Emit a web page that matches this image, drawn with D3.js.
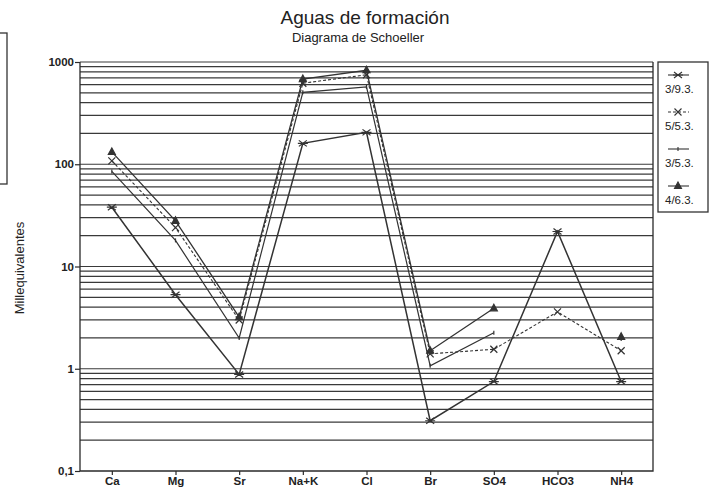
<!DOCTYPE html>
<html>
<head>
<meta charset="utf-8">
<script src="https://cdn.jsdelivr.net/npm/d3@7"></script>
<style>
  body { margin: 0; background: #fff; }
  text { font-family: Arial, "Liberation Sans", sans-serif; fill: #222; }
</style>
</head>
<body>
<div id="chart"></div>
<script>
// chart data
const ions = ["Ca", "Mg", "Sr", "Na+K", "Cl", "Br", "SO4", "HCO3", "NH4"];
const seriesNames = ["3/9.3.", "5/5.3.", "3/5.3.", "4/6.3."];
const s393 = [38, 5.3, 0.88, 160, 205, 0.31, 0.75, 22, 0.75];
const s553 = [108, 24, 3.0, 620, 750, 1.4, 1.55, 3.6, 1.5];
const s353 = [85, 18, 2.0, 505, 570, 1.07, 2.25, null, 1.95];
const s463 = [132, 28, 3.2, 680, 830, 1.5, 3.9, null, 2.05];
const yTicks = [1000, 100, 10, 1, 0.1];
const yTickLabels = ["1000", "100", "10", "1", "0,1"];

const width = 716, height = 492;
const plotLeft = 80, plotRight = 653, plotTop = 62, plotBottom = 471;

const svg = d3.select("#chart").append("svg")
    .attr("width", width)
    .attr("height", height);

const x = d3.scalePoint().domain(ions).range([plotLeft, plotRight]).padding(0.5);
const y = d3.scaleLog().domain([0.1, 1000]).range([plotBottom, plotTop]);

// horizontal grid lines at every 1..9 of each decade
const gridVals = [];
[0.1, 1, 10, 100].forEach(d => { for (let k = 1; k < 10; k++) gridVals.push(d * k); });
gridVals.push(1000);

svg.append("g")
    .selectAll("line")
    .data(gridVals.filter(v => v > 0.1))
    .join("line")
    .attr("x1", plotLeft).attr("x2", plotRight)
    .attr("y1", d => y(d)).attr("y2", d => y(d))
    .attr("stroke", "#3a3a3a")
    .attr("stroke-width", 1.2);

// frame: left, bottom, right
svg.append("path")
    .attr("d", `M${plotLeft},${plotTop} V${plotBottom} H${plotRight} V${plotTop}`)
    .attr("fill", "none")
    .attr("stroke", "#2a2a2a")
    .attr("stroke-width", 1.3);

// y axis ticks + labels
const yAxis = d3.axisLeft(y).tickValues(yTicks)
    .tickFormat((d, i) => yTickLabels[i]).tickSize(5).tickPadding(1);
const ya = svg.append("g").attr("transform", `translate(${plotLeft},0)`).call(yAxis);
ya.select(".domain").remove();
ya.selectAll("line").attr("stroke", "#2a2a2a").attr("stroke-width", 1.2);
ya.selectAll("text").attr("font-size", 11.5).attr("font-weight", "bold").attr("fill", "#333");

// x axis
const xAxis = d3.axisBottom(x).tickSize(4).tickPadding(2);
const xa = svg.append("g").attr("transform", `translate(0,${plotBottom})`).call(xAxis);
xa.select(".domain").remove();
xa.selectAll("line").attr("stroke", "#2a2a2a").attr("stroke-width", 1.2);
xa.selectAll("text").attr("font-size", 11.5).attr("font-weight", "bold").attr("fill", "#333");

// titles
svg.append("text").attr("x", 365).attr("y", 24).attr("text-anchor", "middle")
    .attr("font-size", 19).text("Aguas de formación");
svg.append("text").attr("x", 358).attr("y", 42).attr("text-anchor", "middle")
    .attr("font-size", 13).text("Diagrama de Schoeller");

svg.append("text")
    .attr("transform", "translate(24,268) rotate(-90)")
    .attr("text-anchor", "middle")
    .attr("font-size", 13)
    .text("Millequivalentes");

// stray box at the left edge of the scan
svg.append("rect").attr("x", -6).attr("y", 33).attr("width", 13).attr("height", 151)
    .attr("fill", "none").attr("stroke", "#333").attr("stroke-width", 1.3);

// marker shapes
const markers = [
    "M-4,-3L0,0L-4,3M4,-3L0,0L4,3M-5,0H5",
    "M-3.5,-3.5L3.5,3.5M-3.5,3.5L3.5,-3.5",
    "M0,-2V2",
    "M0,-4L3.5,2.5L-3.5,2.5Z"
];
const dashes = [null, "3,2", null, null];
const strokeW = [1.5, 1.1, 1.2, 1.3];

const seriesData = [s393, s553, s353, s463];
const line = d3.line()
    .defined(d => d.v != null)
    .x(d => x(d.ion))
    .y(d => y(d.v));

seriesData.forEach((vals, i) => {
    const pts = vals.map((v, j) => ({ ion: ions[j], v: v }));
    const g = svg.append("g");
    g.append("path")
        .datum(pts)
        .attr("d", line)
        .attr("fill", "none")
        .attr("stroke", "#333")
        .attr("stroke-width", strokeW[i])
        .attr("stroke-dasharray", dashes[i]);
    g.selectAll("path.m")
        .data(pts.filter(d => d.v != null))
        .join("path")
        .attr("class", "m")
        .attr("d", markers[i])
        .attr("transform", d => `translate(${x(d.ion)},${y(d.v)})`)
        .attr("fill", i === 3 ? "#333" : "none")
        .attr("stroke", "#333")
        .attr("stroke-width", 1.2);
});

// legend
const lg = svg.append("g");
lg.append("rect").attr("x", 658).attr("y", 62).attr("width", 50).attr("height", 150)
    .attr("fill", "none").attr("stroke", "#333").attr("stroke-width", 1.3);
seriesNames.forEach((name, i) => {
    const yy = 75 + i * 37;
    lg.append("line").attr("x1", 668).attr("x2", 689).attr("y1", yy).attr("y2", yy)
        .attr("stroke", "#333").attr("stroke-width", 1.1)
        .attr("stroke-dasharray", dashes[i]);
    lg.append("path").attr("d", markers[i])
        .attr("transform", `translate(678,${yy})`)
        .attr("fill", i === 3 ? "#333" : "none")
        .attr("stroke", "#333").attr("stroke-width", 1.1);
    lg.append("text").attr("x", 665).attr("y", yy + 18)
        .attr("font-size", 11.5).text(name);
});
</script>
</body>
</html>
